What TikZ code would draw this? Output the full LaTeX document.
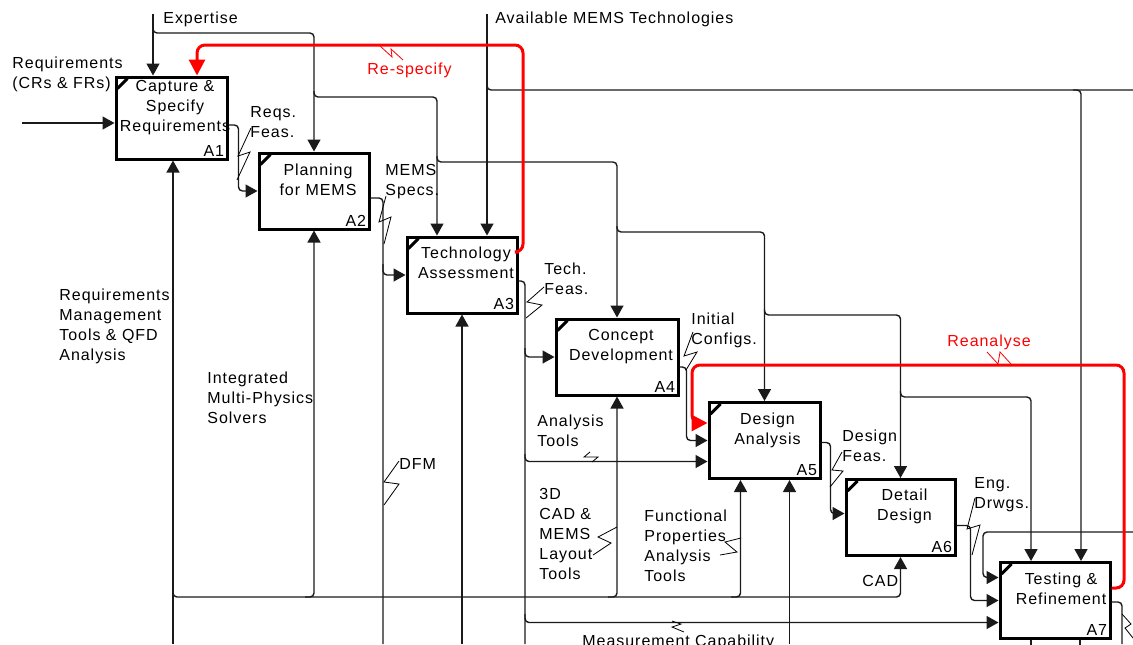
\documentclass[tikz,border=0pt]{standalone}
\usepackage{fontspec}
\usepackage{tikz}
\usetikzlibrary{arrows.meta}
\newfontfamily\idefont[LetterSpace=6]{Liberation Sans}
\definecolor{fbred}{HTML}{FF0000}
\definecolor{lnblack}{HTML}{1A1A1A}

\begin{document}
\begin{tikzpicture}[
    x=0.5pt, y=-0.5pt,
    font=\idefont\fontsize{8}{10}\selectfont,
    actbox/.style={draw, line width=1.5pt, minimum width=55pt, minimum height=38pt, inner sep=0pt},
    boxtxt/.style={anchor=north, align=center, inner sep=0pt},
    numtxt/.style={anchor=south east, inner sep=0pt},
    corner/.style={line width=1.5pt},
    lbl/.style={anchor=north west, align=left, inner sep=0pt},
    arrow/.style={-{Triangle[length=6pt, width=6.5pt]}, line width=0.7pt, draw=lnblack, rounded corners=2pt},
    wire/.style={line width=0.7pt, draw=lnblack, rounded corners=2pt},
    fback/.style={-{Triangle[length=8pt, width=8pt]}, line width=1.5pt, draw=fbred, rounded corners=4pt},
    squig/.style={line width=0.4pt},
]
\useasboundingbox (0,0) rectangle (1133,644);

% activity boxes
\node[actbox, minimum width=55.5pt, minimum height=41pt] (A1) at (171.5,118) {};
\node[actbox] (A2) at (314,191) {};
\node[actbox] (A3) at (462,275) {};
\node[actbox, minimum width=61pt] (A4) at (617,357) {};
\node[actbox, minimum width=55.5pt] (A5) at (764.5,440.5) {};
\node[actbox, minimum width=54.5pt] (A6) at (900.5,517.5) {};
\node[actbox] (A7) at (1055,600.5) {};

\node[boxtxt] at ([xshift=1.75pt, yshift=-2pt]A1.north) {Capture \&\\Specify\\Requirements};
\node[boxtxt] at ([xshift=2pt, yshift=-6pt]A2.north) {Planning\\for MEMS};
\node[boxtxt] at ([xshift=2pt, yshift=-5.5pt]A3.north) {Technology\\Assessment};
\node[boxtxt] at ([xshift=2pt, yshift=-5.5pt]A4.north) {Concept\\Development};
\node[boxtxt] at ([xshift=1.5pt, yshift=-5.5pt]A5.north) {Design\\Analysis};
\node[boxtxt] at ([xshift=2pt, yshift=-5pt]A6.north) {Detail\\Design};
\node[boxtxt] at ([xshift=3pt, yshift=-5.5pt]A7.north) {Testing \&\\Refinement};

\foreach \b in {A1,A2,A3,A4,A5,A6,A7} {
  \node[numtxt] at ([xshift=-2pt, yshift=2pt]\b.south east) {\b};
  \draw[corner] ([xshift=1.5pt, yshift=-6.5pt]\b.north west) -- ([xshift=6.5pt, yshift=-1.5pt]\b.north west);
}

% free ends at the frame
\coordinate (reqin) at (22,123);
\coordinate (expin) at (153,14);
\coordinate (techin) at (487,14);
\coordinate (techout) at (1133,90);
\coordinate (rmtin) at (173,644);
\coordinate (dfmout) at (383,644);
\coordinate (a3mech) at (462,644);
\coordinate (toolin) at (525,644);
\coordinate (a5mech) at (789.5,644);
\coordinate (a8fb) at (1133,532);
\coordinate (a7out) at (1122,644);

% inputs and controls
\draw[arrow] (reqin) -- (reqin -| A1.west);
\draw[arrow] (expin) -- (expin |- A1.north);
\draw[arrow] (153,27) |- (170,33) -| (A2.north);
\draw[arrow] (314,91) |- (330,97) -| ([xshift=-12.5pt]A3.north);
\draw[arrow] (437,156) |- (450,162) -| (A4.north);
\draw[arrow] (617,226) |- (630,232) -| (A5.north);
\draw[arrow] (764.5,309) |- (780,315) -| (A6.north);
\draw[arrow] (900.5,391) |- (915,397) -| ([xshift=-12pt]A7.north);
\draw[arrow] (techin) -- (techin |- A3.north);
\draw[wire] (487,84) |- (techout);
\draw[arrow] (1073,90) -| ([xshift=13pt]A7.north);

% outputs between boxes
\draw[arrow] ([yshift=-3.5pt]A1.east) -- ++(10,0) |- (A2.west);
\draw[wire] ([yshift=-3.5pt]A2.east) -| (dfmout);
\draw[arrow] (383,264) |- (A3.west);
\draw[wire] ([yshift=-3pt]A3.east) -| (toolin);
\draw[arrow] (525,348) |- (A4.west);
\draw[arrow] (525,454) |- ([yshift=-10.5pt]A5.west);
\draw[arrow] (525,614) |- ([yshift=-11pt]A7.west);
\draw[arrow] ([yshift=-5pt]A4.east) -- ++(7,0) |- (A5.west);
\draw[arrow] ([yshift=-1pt]A5.east) -- ++(9,0) |- ([yshift=2pt]A6.west);
\draw[arrow] ([yshift=-4pt]A6.east) -- ++(14,0) |- (A7.west);
\draw[arrow] (a8fb) -- (983,532) |- ([yshift=11.5pt]A7.west);
\draw[wire] ([yshift=-0.75pt]A7.east) -| (a7out);

% mechanisms
\draw[arrow] (rmtin) -- (rmtin |- A1.south);
\draw[arrow] (173,589) |- (190,597) -| (A6.south);
\draw[arrow] (305,597) -| (A2.south);
\draw[arrow] (608,597) -| (A4.south);
\draw[arrow] (731,597) -| ([xshift=-12pt]A5.south);
\draw[arrow] (a3mech) -- (a3mech |- A3.south);
\draw[arrow] (a5mech) -- (a5mech |- A5.south);
\draw[wire] ([xshift=-12pt]A7.south) -- ++(0,8);
\draw[wire] ([xshift=12.5pt]A7.south) -- ++(0,8);

% feedback
\draw[fback] ([yshift=11.5pt]A3.east) -| (523,45) -| ([xshift=12.75pt]A1.north);
\draw[fback] ([yshift=6.25pt]A7.east) -| (1124,365) -- (692,365) |- ([yshift=8.75pt]A5.west);

% arrow labels
\node[lbl] (expL) at (163,12) {Expertise};
\node[lbl] (reqL) at (12,56) {Requirements\\(CRs \& FRs)};
\node[lbl] (techL) at (495,12) {Available MEMS Technologies};
\node[lbl, text=fbred] (respL) at (367,62) {Re-specify};
\node[lbl] (rfL) at (250,106) {Reqs.\\Feas.};
\node[lbl] (msL) at (385,164) {MEMS\\Specs.};
\node[lbl] (tfL) at (544,262) {Tech.\\Feas.};
\node[lbl] (icL) at (691,312) {Initial\\Configs.};
\node[lbl, text=fbred] (reanL) at (947,334) {Reanalyse};
\node[lbl] (rmtL) at (59,288) {Requirements\\Management\\Tools \& QFD\\Analysis};
\node[lbl] (impL) at (207,371) {Integrated\\Multi-Physics\\Solvers};
\node[lbl] (dfmL) at (399,458) {DFM};
\node[lbl] (atL) at (537,414) {Analysis\\Tools};
\node[lbl] (dfL) at (842,429) {Design\\Feas.};
\node[lbl] (cadL) at (539,488) {3D\\CAD \&\\MEMS\\Layout\\Tools};
\node[lbl] (fpL) at (644,509) {Functional\\Properties\\Analysis\\Tools};
\node[lbl] (edL) at (974,477) {Eng.\\Drwgs.};
\node[lbl] (cad2L) at (862,575) {CAD};
\node[lbl] (mcL) at (582,634) {Measurement Capability};

% squiggles
\draw[squig] (251,128) -- (238,156) -- (250,152) -- (237,180);
\draw[squig] (386,196) -- (379,222) -- (391,217) -- (384,244);
\draw[squig] (544,287) -- (527,302) -- (542,305) -- (526,318);
\draw[squig] (693,332) -- (684,356) -- (697,352) -- (686,370);
\draw[squig] (590,452) -- (584,457) -- (598,457) -- (592,462);
\draw[squig] (399,461) -- (384,482) -- (399,484) -- (384,505);
\draw[squig] (617,527) -- (598,537) -- (611,543) -- (593,555);
\draw[squig] (741,538) -- (725,542) -- (737,552) -- (720,555);
\draw[squig] (672,621) -- (681,624) -- (672,627) -- (684,632);
\draw[squig] (842,452) -- (832,470) -- (843,471) -- (830,487);
\draw[squig] (975,498) -- (967,529) -- (980,525) -- (972,555);
\draw[squig] (1122,614) -- (1131,624) -- (1125,628) -- (1133,638);
\draw[squig, fbred] (379,45) -- (392,57) -- (391,49) -- (403,60);
\draw[squig, fbred] (987,352) -- (998,364) -- (1000,352) -- (1011,364);

\end{tikzpicture}
\end{document}
